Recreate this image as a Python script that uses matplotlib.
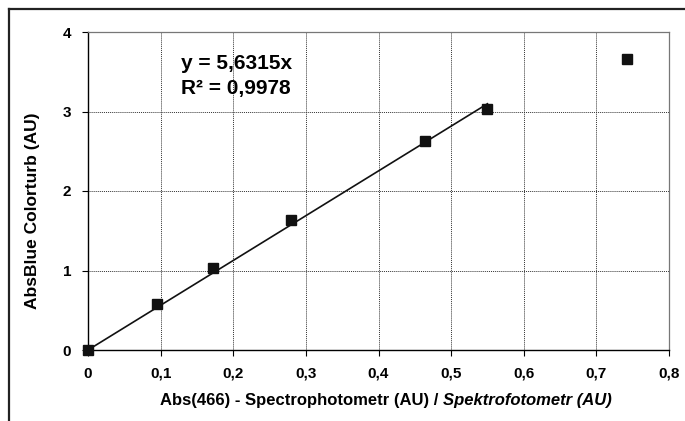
import numpy as np
import matplotlib.pyplot as plt
from matplotlib.lines import Line2D

# dados medidos
abs_spectro = [0.0, 0.095, 0.172, 0.279, 0.464, 0.550, 0.742]
abs_colorturb = [0.0, 0.58, 1.03, 1.635, 2.63, 3.03, 3.66]

# regressao linear (pela origem)
slope = 5.6315
r2 = 0.9978
fit_x = [0.0, 0.550]

x_ticks = [0, 0.1, 0.2, 0.3, 0.4, 0.5, 0.6, 0.7, 0.8]
x_tick_labels = ['0', '0,1', '0,2', '0,3', '0,4', '0,5', '0,6', '0,7', '0,8']
y_ticks = [0, 1, 2, 3, 4]

plt.rcParams['font.family'] = ['Liberation Sans', 'DejaVu Sans']

fig = plt.figure(figsize=(6.85, 4.21), dpi=100)
ax = fig.add_axes([88/685, 71/421, 581/685, 318/421])

# moldura externa (cortada a direita e embaixo)
fig.add_artist(Line2D([8.5/685, 1.0], [1 - 8.5/421, 1 - 8.5/421], transform=fig.transFigure,
                      color='#222222', lw=1.6))
fig.add_artist(Line2D([8.5/685, 8.5/685], [0.0, 1 - 8.5/421], transform=fig.transFigure,
                      color='#222222', lw=1.6))

# linha de tendencia
fx = np.array(fit_x)
ax.plot(fx, slope * fx, color='#111111', lw=1.2, zorder=3)

# pontos
ax.plot(abs_spectro, abs_colorturb, 's', color='#111111', markersize=6.5,
        linestyle='none', clip_on=False, zorder=4)

ax.set_xlim(0, 0.8)
ax.set_ylim(0, 4)
ax.set_xticks(x_ticks)
ax.set_xticklabels(x_tick_labels)
ax.set_yticks(y_ticks)
ax.tick_params(direction='out', length=4, width=0.8, labelsize=11, pad=8)
for lab in ax.get_xticklabels() + ax.get_yticklabels():
    lab.set_fontweight('bold')

ax.grid(True, color='#333333', linestyle=(0, (1, 1)), linewidth=0.7)
ax.set_axisbelow(True)
ax.spines['left'].set_color('black')
ax.spines['bottom'].set_color('black')
ax.spines['left'].set_linewidth(1.0)
ax.spines['bottom'].set_linewidth(1.0)
for s in ['top', 'right']:
    ax.spines[s].set_color('#777777')
    ax.spines[s].set_linestyle((0, (1, 1)))
    ax.spines[s].set_linewidth(0.9)

# equacao
ax.text(0.128, 3.53, 'y = 5,6315x', fontsize=15, fontweight='bold', va='baseline')
ax.text(0.128, 3.22, 'R² = 0,9978', fontsize=15, fontweight='bold', va='baseline')

# titulos dos eixos
ax.set_ylabel('AbsBlue Colorturb (AU)', fontsize=12.5, fontweight='bold')
ax.yaxis.set_label_coords(-0.083, 0.437)

t1 = ax.text(0.124, -0.158, 'Abs(466) - Spectrophotometr (AU) / ', transform=ax.transAxes,
             fontsize=12, fontweight='bold', va='center', ha='left')
ax.annotate('Spektrofotometr (AU)', xy=(1, 0), xycoords=t1, va='bottom', ha='left',
            fontsize=12, fontweight='bold', fontstyle='italic')

fig.savefig('out.png', dpi=100)
